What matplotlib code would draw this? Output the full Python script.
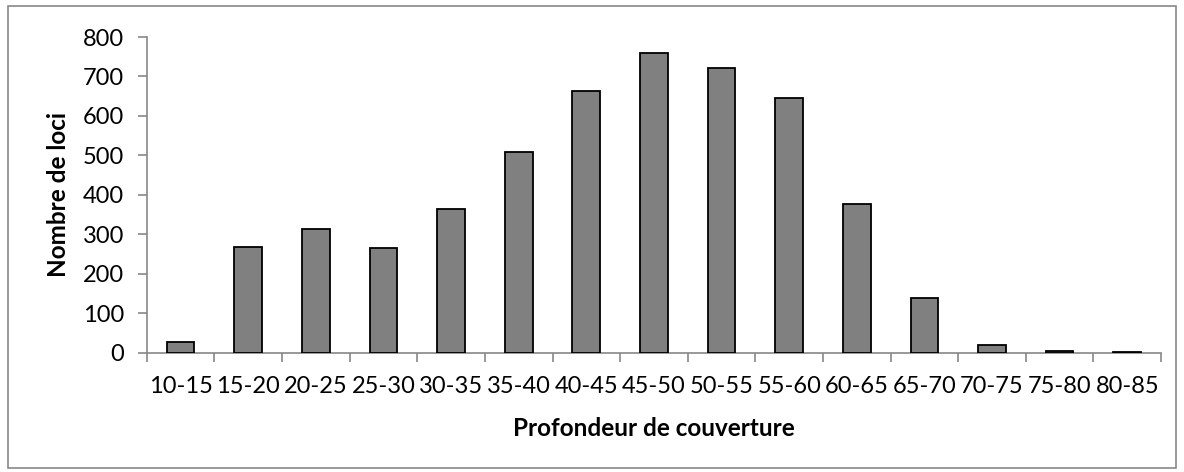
import numpy as np
import matplotlib.pyplot as plt
from matplotlib.patches import Rectangle

plt.rcParams['font.family'] = ['Lato', 'DejaVu Sans']

categories = ['10-15', '15-20', '20-25', '25-30', '30-35', '35-40', '40-45', '45-50',
              '50-55', '55-60', '60-65', '65-70', '70-75', '75-80', '80-85']
counts = [27, 267, 314, 266, 365, 508, 663, 759, 722, 646, 378, 139, 19, 5, 1]

fig = plt.figure(figsize=(11.84, 4.72), dpi=100)
fig.patches.append(Rectangle((0.007, 0.008), 0.986, 0.98, transform=fig.transFigure,
                             fill=False, edgecolor='#878787', linewidth=1.2))
ax = fig.add_axes([0.124, 0.2528, 0.8566, 0.6688])

x = np.arange(len(categories))
ax.bar(x, counts, width=0.41, color='#808080', edgecolor='black', linewidth=1.3, zorder=3)

ax.set_xlim(-0.5, len(categories) - 0.5)
ax.set_ylim(0, 800)
ax.set_yticks(np.arange(0, 801, 100))
ax.set_xticks(x)
ax.set_xticklabels(categories)
ax.set_xticks(np.arange(-0.5, len(categories)), minor=True)
ax.tick_params(axis='x', which='major', length=0, pad=17, labelsize=17)
ax.tick_params(axis='x', which='minor', length=6.5, color='#878787', width=1.2)
ax.tick_params(axis='y', length=6.5, color='#878787', width=1.2, labelsize=17, pad=10)

for s in ['top', 'right']:
    ax.spines[s].set_visible(False)
for s in ['left', 'bottom']:
    ax.spines[s].set_color('#878787')
    ax.spines[s].set_linewidth(1.2)

ax.set_xlabel('Profondeur de couverture', fontsize=17.5, fontweight='bold', labelpad=14)
ax.set_ylabel('Nombre de loci', fontsize=17.5, fontweight='bold', labelpad=9)

plt.savefig('out.png', dpi=100)
